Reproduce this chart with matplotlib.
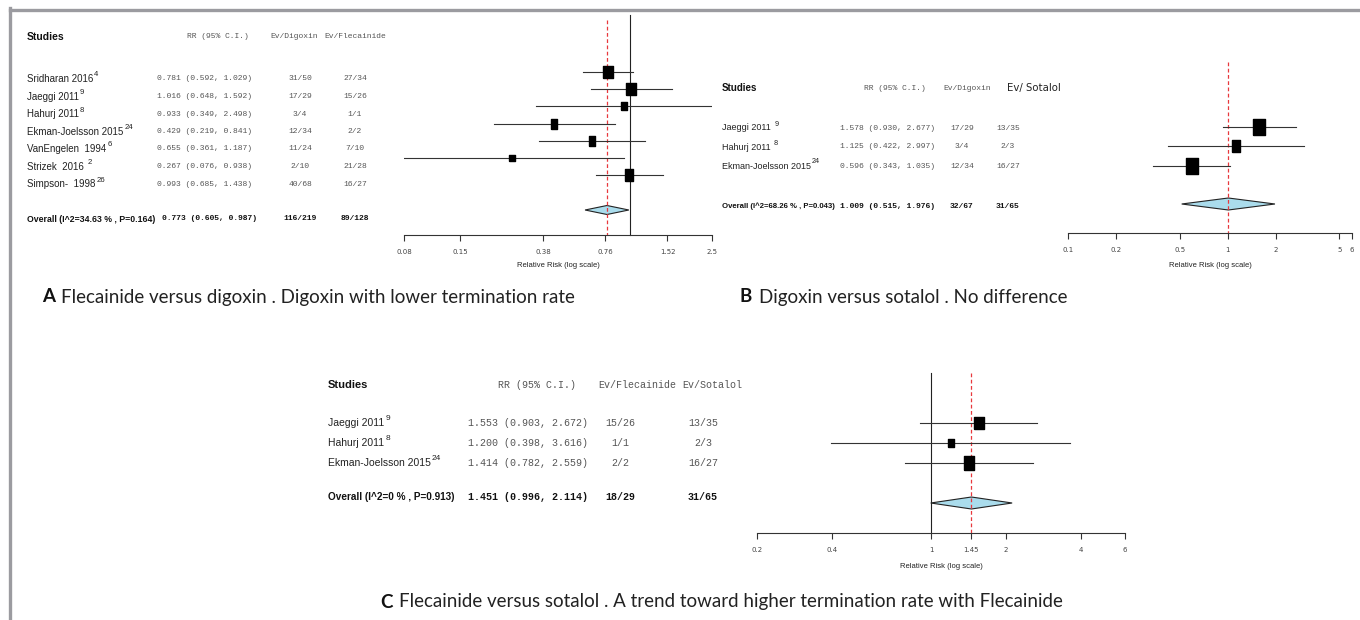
import numpy as np
import matplotlib
matplotlib.use("Agg")
import matplotlib.pyplot as plt
from matplotlib.lines import Line2D

W, H = 1360, 620

# ---- panel A: flecainide vs digoxin
a_studies = ["Sridharan 2016", "Jaeggi 2011", "Hahurj 2011", "Ekman-Joelsson 2015",
             "VanEngelen  1994", "Strizek  2016 ", "Simpson-  1998"]
a_refs = ["4", "9", "8", "24", "6", "2", "26"]
a_rr = [0.781, 1.016, 0.933, 0.429, 0.655, 0.267, 0.993]
a_lo = [0.592, 0.648, 0.349, 0.219, 0.361, 0.076, 0.685]
a_hi = [1.029, 1.592, 2.498, 0.841, 1.187, 0.938, 1.438]
a_ev1 = ["31/50", "17/29", "3/4", "12/34", "11/24", "2/10", "40/68"]
a_ev2 = ["27/34", "15/26", "1/1", "2/2", "7/10", "21/28", "16/27"]
a_weight = [21, 21, 9, 12, 12, 7, 18]
a_all = [0.773, 0.605, 0.987]
a_all_ev = ["116/219", "89/128"]
a_het = "Overall (I^2=34.63 % , P=0.164)"
a_ticks = [0.08, 0.15, 0.38, 0.76, 1.52, 2.5]

# ---- panel B: digoxin vs sotalol
b_studies = ["Jaeggi 2011 ", "Hahurj 2011 ", "Ekman-Joelsson 2015"]
b_refs = ["9", "8", "24"]
b_rr = [1.578, 1.125, 0.596]
b_lo = [0.930, 0.422, 0.343]
b_hi = [2.677, 2.997, 1.035]
b_ev1 = ["17/29", "3/4", "12/34"]
b_ev2 = ["13/35", "2/3", "16/27"]
b_weight = [39, 22, 39]
b_all = [1.009, 0.515, 1.976]
b_all_ev = ["32/67", "31/65"]
b_het = "Overall (I^2=68.26 % , P=0.043)"
b_ticks = [0.1, 0.2, 0.5, 1, 2, 5, 6]

# ---- panel C: flecainide vs sotalol
c_studies = ["Jaeggi 2011", "Hahurj 2011", "Ekman-Joelsson 2015"]
c_refs = ["9", "8", "24"]
c_rr = [1.553, 1.200, 1.414]
c_lo = [0.903, 0.398, 0.782]
c_hi = [2.672, 3.616, 2.559]
c_ev1 = ["15/26", "1/1", "2/2"]
c_ev2 = ["13/35", "2/3", "16/27"]
c_weight = [38, 18, 44]
c_all = [1.451, 0.996, 2.114]
c_all_ev = ["18/29", "31/65"]
c_het = "Overall (I^2=0 % , P=0.913)"
c_ticks = [0.2, 0.4, 1, 1.45, 2, 4, 6]

captions = [("A", "Flecainide versus digoxin . Digoxin with lower termination rate"),
            ("B", "Digoxin versus sotalol . No difference"),
            ("C", "Flecainide versus sotalol . A trend toward higher termination rate with Flecainide")]

NAME = ["Liberation Sans Narrow", "Liberation Sans", "DejaVu Sans"]
MONO = ["Liberation Mono", "DejaVu Sans Mono"]
CAP = ["Lato", "DejaVu Sans"]

fig = plt.figure(figsize=(W / 100, H / 100), dpi=100)
renderer = fig.canvas.get_renderer()


def txt(x, y, s, **kw):
    kw.setdefault("va", "center")
    return fig.text(x / W, 1 - y / H, s, **kw)


def fmt_rr(r, lo, hi):
    return "%.3f (%.3f, %.3f)" % (r, lo, hi)


def table(x_name, x_rr, x_ev1, x_ev2, head_x, y_head, y0, step, y_all, heads, names, refs,
          rr, lo, hi, ev1, ev2, het, allv, all_ev, nsize, msize, hsize, head3_font=None,
          all_shift=0):
    txt(x_name, y_head, "Studies", family=NAME, weight="bold", fontsize=nsize + 0.5, color="#111")
    txt(head_x[0], y_head, "RR (95% C.I.)", family=MONO, fontsize=msize, color="#555", ha="center")
    txt(head_x[1], y_head, heads[0], family=MONO, fontsize=msize, color="#555", ha="center")
    if head3_font:
        txt(head_x[2], y_head, heads[1], family=head3_font, fontsize=msize + 1.5, color="#222", ha="center")
    else:
        txt(head_x[2], y_head, heads[1], family=MONO, fontsize=msize, color="#555", ha="center")
    for i in range(len(names)):
        y = y0 + i * step
        t = txt(x_name, y, names[i], family=NAME, fontsize=nsize, color="#222")
        bb = t.get_window_extent(renderer)
        txt(bb.x1 + 1, y - 4, refs[i], family=NAME, fontsize=nsize * 0.8, color="#222")
        txt(x_rr, y, fmt_rr(rr[i], lo[i], hi[i]), family=MONO, fontsize=msize,
            color="#555", ha="right")
        txt(x_ev1, y, ev1[i], family=MONO, fontsize=msize, color="#555", ha="center")
        txt(x_ev2, y, ev2[i], family=MONO, fontsize=msize, color="#555", ha="center")
    txt(x_name, y_all, het, family=NAME, weight="bold", fontsize=hsize, color="#111")
    txt(x_rr + all_shift, y_all, fmt_rr(*allv), family=MONO, weight="bold", fontsize=msize,
        color="#111", ha="right")
    txt(x_ev1, y_all, all_ev[0], family=MONO, weight="bold", fontsize=msize, color="#111", ha="center")
    txt(x_ev2, y_all, all_ev[1], family=MONO, weight="bold", fontsize=msize, color="#111", ha="center")


box = [(-0.38, -0.5), (0.38, -0.5), (0.38, 0.5), (-0.38, 0.5), (-0.38, -0.5)]


def forest(left, right, top, bottom, xlim, ticks, y0, step, y_dia, dia_h, rr, lo, hi,
           weight, allv, scale, red_top, black_top, label_y, tick_fs=5):
    ax = fig.add_axes([left / W, 1 - bottom / H, (right - left) / W, (bottom - top) / H])
    ax.set_xscale("log")
    ax.set_xlim(*xlim)
    ax.set_ylim(bottom, top)
    ax.patch.set_alpha(0)
    for s in ["top", "left", "right"]:
        ax.spines[s].set_visible(False)
    ax.spines["bottom"].set_color("#333")
    ax.spines["bottom"].set_linewidth(0.8)
    ax.set_yticks([])
    ax.xaxis.set_minor_locator(matplotlib.ticker.NullLocator())
    ax.set_xticks(ticks)
    ax.set_xticklabels([("%g" % t) for t in ticks])
    ax.tick_params(axis="x", direction="out", length=4, width=0.8, color="#333",
                   labelsize=tick_fs, labelcolor="#444", pad=6)
    if black_top is not None:
        ax.plot([1, 1], [black_top, bottom], color="#222", lw=0.8, clip_on=False)
    ax.plot([allv[0], allv[0]], [red_top, bottom], color="#e8383d", lw=0.9,
            linestyle=(0, (3, 2)), clip_on=False)
    for i in range(len(rr)):
        y = y0 + i * step
        ax.plot([lo[i], hi[i]], [y, y], color="#333", lw=0.8)
        ax.plot(rr[i], y, marker=box, ms=scale * np.sqrt(weight[i]) * 0.72,
                color="black", ls="none")
    ax.fill([allv[1], allv[0], allv[2], allv[0]],
            [y_dia, y_dia - dia_h / 2, y_dia, y_dia + dia_h / 2],
            facecolor="#aadcec", edgecolor="#222", lw=0.8)
    txt((left + right) / 2, label_y, "Relative Risk (log scale)", family=NAME,
        fontsize=5.5, color="#222", ha="center")
    return ax


# panel A
table(27, 252, 300, 355, [218, 294, 355], 37, 79, 17.5, 219, ["Ev/Digoxin", "Ev/Flecainide"],
      a_studies, a_refs, a_rr, a_lo, a_hi, a_ev1, a_ev2, a_het, a_all, a_all_ev, 7, 5.8, 6.3,
      all_shift=5)
forest(404, 712, 15, 235, (0.08, 2.5), a_ticks, 72, 17.2, 210, 9, a_rr, a_lo, a_hi,
       a_weight, a_all, 2.6, 20, 15, 265)

# panel B
table(722, 935, 962, 1008, [895, 967, 1034], 88, 128, 19, 206, ["Ev/Digoxin", "Ev/ Sotalol"],
      b_studies, b_refs, b_rr, b_lo, b_hi, b_ev1, b_ev2, b_het, b_all, b_all_ev, 6.5, 5.8, 5.6,
      head3_font=["DejaVu Sans"])
forest(1068, 1352, 62, 233, (0.1, 6), b_ticks, 127, 19.5, 204, 12, b_rr, b_lo, b_hi,
       b_weight, b_all, 2.5, 62, None, 265)

# panel C
table(328, 588, 620, 703, [537, 637, 712], 385, 423, 20, 497, ["Ev/Flecainide", "Ev/Sotalol"],
      c_studies, c_refs, c_rr, c_lo, c_hi, c_ev1, c_ev2, c_het, c_all, c_all_ev, 7.5, 7.2, 7.2)
forest(757, 1125, 373, 533, (0.2, 6), c_ticks, 423, 20, 503, 12, c_rr, c_lo, c_hi,
       c_weight, c_all, 2.1, 373, 373, 567)

# captions
cap_pos = [(42, 297), (740, 297), (380, 602)]
for (letter, text), (x, y) in zip(captions, cap_pos):
    txt(x, y, letter, family=CAP, weight="bold", fontsize=13.5, color="#111")
    txt(x + 19, y, text, family=CAP, fontsize=13.5, color="#222")

# gray frame on left and top
fig.add_artist(Line2D([9.5 / W, 1], [1 - 9.5 / H, 1 - 9.5 / H], color="#9b9ba0", lw=2.4))
fig.add_artist(Line2D([9.5 / W, 9.5 / W], [1 - 8 / H, 0], color="#9b9ba0", lw=2.4))

fig.savefig("out.png", dpi=100)
